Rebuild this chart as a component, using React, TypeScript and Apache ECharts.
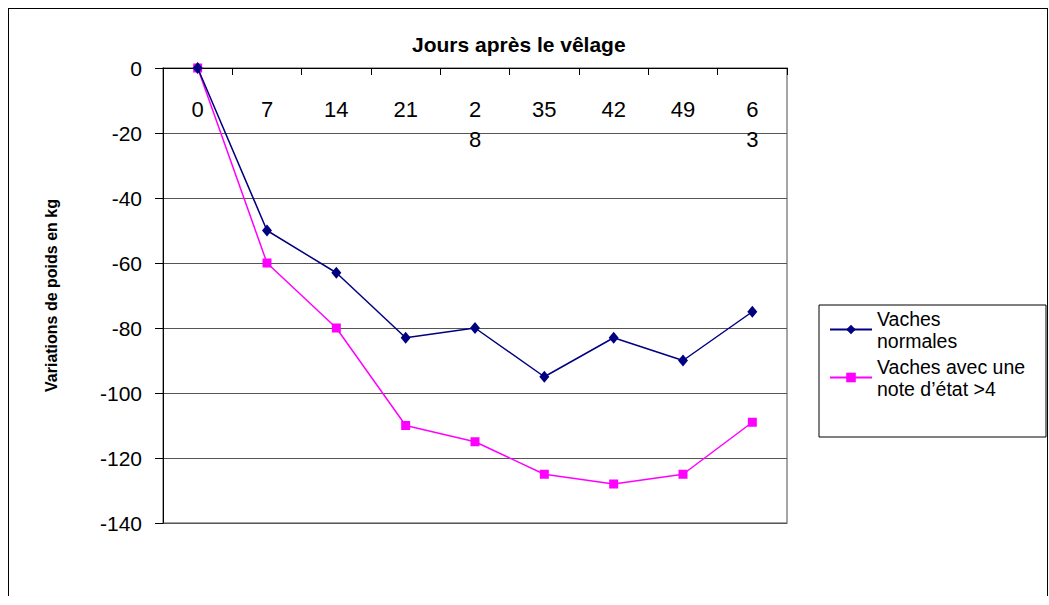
import React, { useEffect, useRef } from "react";
import * as echarts from "echarts";

const days = ["0", "7", "14", "21", "2\n8", "35", "42", "49", "6\n3"];
const normales = [0, -50, -63, -83, -80, -95, -83, -90, -75];
const etatSup4 = [0, -60, -80, -110, -115, -125, -128, -125, -109];
const seriesNames = ["Vaches\nnormales", "Vaches avec une\nnote d’état >4"];
const titleText = "Jours après le vêlage";
const yName = "Variations de poids en kg";

const FONT = "'Liberation Sans', Arial, sans-serif";

export default function App() {
  const ref = useRef<HTMLDivElement>(null);
  useEffect(() => {
    document.documentElement.style.overflow = "hidden";
    document.body.style.overflow = "hidden";
    document.body.style.margin = "8px 0 0 8px";
    if (!ref.current) return;
    const chart = echarts.init(ref.current, undefined, { renderer: "svg" });
    const w = chart.getWidth();
    chart.setOption({
      animation: false,
      backgroundColor: "#fff",
      textStyle: { fontFamily: FONT, color: "#000" },
      title: {
        text: titleText,
        left: 403,
        top: 25,
        padding: 0,
        textStyle: { fontFamily: FONT, fontWeight: "bold", fontSize: 21, color: "#000" },
      },
      graphic: [
        {
          type: "rect",
          shape: { x: 810, y: 296, width: Math.min(227, w - 811), height: 132 },
          style: { fill: "none", stroke: "#000", lineWidth: 1 },
          silent: true,
        },
      ],
      legend: {
        orient: "vertical",
        left: 820,
        top: 286.5,
        padding: 0,
        itemWidth: 42,
        itemHeight: 12,
        itemGap: -20,
        textStyle: {
          fontFamily: FONT,
          fontSize: 19.5,
          lineHeight: 22,
          color: "#000",
          padding: [24, 0, 0, 0],
        },
        data: seriesNames,
      },
      grid: {
        left: 154,
        top: 59,
        width: 624,
        height: 455,
        show: true,
        borderColor: "#888",
        borderWidth: 1.5,
        backgroundColor: "#fff",
        containLabel: false,
      },
      xAxis: {
        type: "category",
        position: "top",
        boundaryGap: true,
        data: days,
        axisLine: { show: true, lineStyle: { color: "#000", width: 1 } },
        axisTick: { show: true, inside: true, length: 7, lineStyle: { color: "#000" } },
        axisLabel: {
          inside: true,
          margin: 26,
          fontSize: 22,
          lineHeight: 30,
          color: "#000",
          fontFamily: FONT,
          interval: 0,
        },
        splitLine: { show: false },
      },
      yAxis: {
        type: "value",
        min: -140,
        max: 0,
        interval: 20,
        name: yName,
        nameLocation: "middle",
        nameGap: 104,
        nameTextStyle: { fontFamily: FONT, fontWeight: "bold", fontSize: 16, color: "#000" },
        axisLine: { show: true, lineStyle: { color: "#000", width: 1 } },
        axisTick: { show: true, inside: false, length: 8, lineStyle: { color: "#000" } },
        axisLabel: { margin: 21, fontSize: 21, color: "#000", fontFamily: FONT },
        splitLine: { show: true, lineStyle: { color: "#555", width: 1 } },
      },
      series: [
        {
          name: seriesNames[0],
          type: "line",
          data: normales,
          symbol: "diamond",
          symbolSize: [10, 12],
          lineStyle: { color: "#000080", width: 1.5 },
          itemStyle: { color: "#000080" },
          z: 3,
        },
        {
          name: seriesNames[1],
          type: "line",
          data: etatSup4,
          symbol: "rect",
          symbolSize: 9,
          lineStyle: { color: "#FF00FF", width: 1.5 },
          itemStyle: { color: "#FF00FF" },
          z: 2,
        },
      ],
    });
    return () => chart.dispose();
  }, []);
  return (
    <div
      style={{
        borderTop: "1px solid #000",
        borderLeft: "1px solid #000",
        borderRight: "1px solid #000",
        width: "100%",
        maxWidth: 1040,
        boxSizing: "border-box",
        height: 588,
        background: "#fff",
        overflow: "hidden",
      }}
    >
      <div ref={ref} style={{ width: "100%", height: 588 }} />
    </div>
  );
}
